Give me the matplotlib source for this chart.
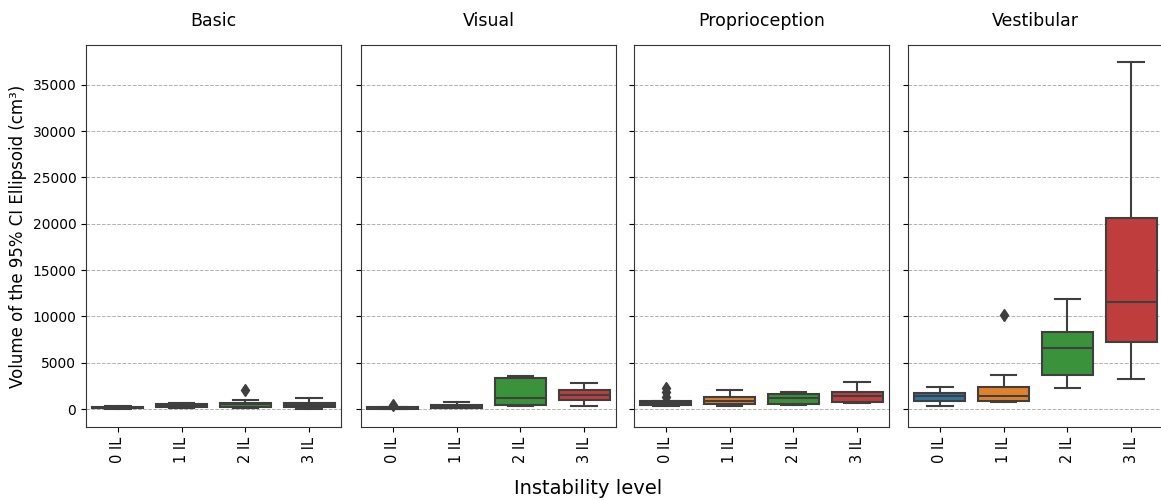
import numpy as np
import matplotlib
matplotlib.use("Agg")
import matplotlib.pyplot as plt

# 조건별 상자그림 요약값
conditions = ["Basic", "Visual", "Proprioception", "Vestibular"]
levels = ["0 IL", "1 IL", "2 IL", "3 IL"]
colors = ["#3274a1", "#e1812c", "#3a923a", "#c03d3e"]

whislo = {
    "Basic": [20, 100, 100, 50],
    "Visual": [20, 100, 320, 360],
    "Proprioception": [380, 320, 470, 680],
    "Vestibular": [360, 720, 2230, 3280],
}
q1 = {
    "Basic": [60, 180, 200, 200],
    "Visual": [40, 150, 430, 970],
    "Proprioception": [400, 570, 570, 790],
    "Vestibular": [900, 900, 3670, 7270],
}
med = {
    "Basic": [130, 370, 540, 450],
    "Visual": [100, 320, 1150, 1540],
    "Proprioception": [620, 900, 1150, 1440],
    "Vestibular": [1400, 1440, 6550, 11520],
}
q3 = {
    "Basic": [200, 560, 700, 700],
    "Visual": [200, 480, 3310, 2050],
    "Proprioception": [830, 1330, 1620, 1870],
    "Vestibular": [1760, 2410, 8280, 20590],
}
whishi = {
    "Basic": [330, 680, 970, 1220],
    "Visual": [250, 790, 3560, 2810],
    "Proprioception": [830, 2020, 1840, 2950],
    "Vestibular": [2410, 3670, 11850, 37440],
}
fliers = {
    "Basic": [[], [], [2050], []],
    "Visual": [[400], [], [], []],
    "Proprioception": [[1300, 1800, 2300], [], [], []],
    "Vestibular": [[], [10150], [], []],
}

fig = plt.figure(figsize=(11.61, 5), dpi=100)
lefts = [86, 361, 634, 908]
axw, bot, top = 255, 73, 455
line_c = "#3f3f3f"

axes = []
for i, cond in enumerate(conditions):
    ax = fig.add_axes([lefts[i] / 1161, bot / 500, axw / 1161, (top - bot) / 500],
                      sharey=axes[0] if axes else None)
    axes.append(ax)
    stats = []
    for j in range(4):
        stats.append(dict(whislo=whislo[cond][j], q1=q1[cond][j], med=med[cond][j],
                          q3=q3[cond][j], whishi=whishi[cond][j],
                          fliers=fliers[cond][j]))
    bp = ax.bxp(stats, positions=range(4), widths=0.8, patch_artist=True,
                boxprops=dict(edgecolor=line_c, linewidth=1.5),
                medianprops=dict(color=line_c, linewidth=1.5),
                whiskerprops=dict(color=line_c, linewidth=1.5),
                capprops=dict(color=line_c, linewidth=1.5),
                flierprops=dict(marker="d", markerfacecolor=line_c,
                                markeredgecolor=line_c, markersize=6))
    for patch, c in zip(bp["boxes"], colors):
        patch.set_facecolor(c)
    for cap in bp["caps"]:
        x = cap.get_xdata()
        m = x.mean()
        cap.set_xdata([m - 0.2, m + 0.2])

    ax.set_xlim(-0.5, 3.5)
    ax.set_xticks(range(4))
    ax.set_xticklabels(levels, rotation=90, fontsize=10.5)
    ax.set_title(cond, fontsize=12.5, pad=14)
    ax.grid(True, axis="y", linestyle="--", color="#b0b0b0", linewidth=0.7)
    ax.set_axisbelow(True)
    for s in ax.spines.values():
        s.set_color("#333333")
    if i > 0:
        ax.tick_params(axis="y", labelleft=False)

axes[0].set_ylim(-1940, 39300)
axes[0].set_yticks(np.arange(0, 35001, 5000))
axes[0].tick_params(axis="y", labelsize=10)
axes[0].set_ylabel("Volume of the 95% CI Ellipsoid (cm³)", fontsize=12)
fig.text(588 / 1161, 2 / 500, "Instability level", ha="center", va="bottom", fontsize=14)

fig.savefig("out.png", dpi=100)
